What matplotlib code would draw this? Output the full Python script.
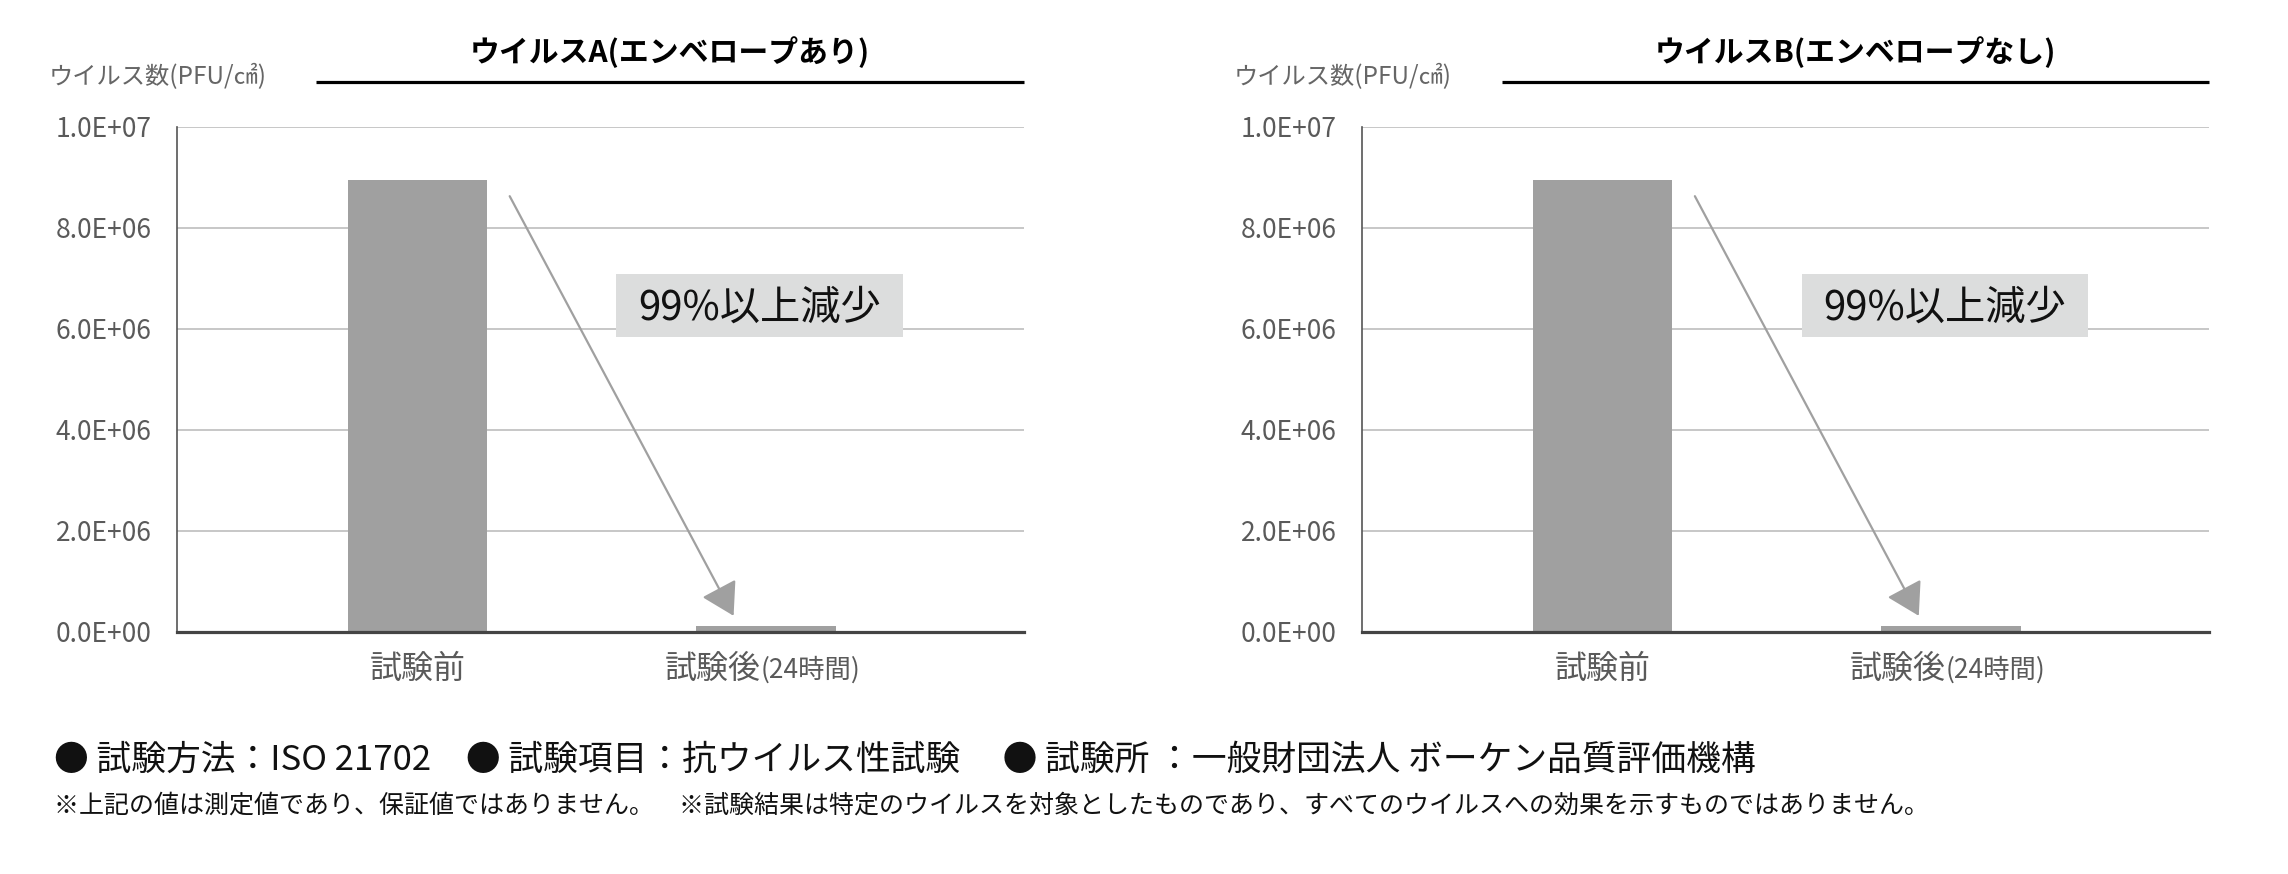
import matplotlib
matplotlib.use("Agg")
import matplotlib.pyplot as plt
from matplotlib.patches import Rectangle
from matplotlib.ticker import FuncFormatter

plt.rcParams['font.family'] = ['Noto Sans CJK JP', 'DejaVu Sans']

# ---- data ----
categories = ["試験前", "試験後"]
category_suffix = ["", "(24時間)"]
titles = ["ウイルスA(エンベロープあり)", "ウイルスB(エンベロープなし)"]
virus_a = [8.96e6, 1.2e5]
virus_b = [8.96e6, 1.2e5]
series = [virus_a, virus_b]
y_ticks = [0, 2e6, 4e6, 6e6, 8e6, 1e7]
y_label = "ウイルス数(PFU/㎠)"
reduction_label = "99%以上減少"
footer_line1 = "● 試験方法：ISO 21702　● 試験項目：抗ウイルス性試験　 ● 試験所 ：一般財団法人 ボーケン品質評価機構"
footer_line2 = ("※上記の値は測定値であり、保証値ではありません。　"
                "※試験結果は特定のウイルスを対象としたものであり、すべてのウイルスへの効果を示すものではありません。")

BAR_COLOR = "#a0a0a0"
GRID_COLOR = "#b8b8b8"
TEXT_GRAY = "#5a5a5a"


def sci_fmt(v, pos):
    if v <= 0:
        return "0.0E+00"
    exp = len(str(int(round(v)))) - 1
    return "%.1fE+%02d" % (v / 10 ** exp, exp)


fig = plt.figure(figsize=(22.88, 8.74), dpi=100)
fig.patch.set_facecolor("white")

axes_lefts = [0.0772, 0.5952]
ax_w, ax_b, ax_h = 0.3704, 0.2769, 0.5778

x = list(range(len(categories)))

for i, (left, vals, title) in enumerate(zip(axes_lefts, series, titles)):
    ax = fig.add_axes([left, ax_b, ax_w, ax_h])
    ax.set_xlim(-0.69, 1.74)
    ax.set_ylim(0, 1e7)
    ax.set_yticks(y_ticks)
    ax.yaxis.set_major_formatter(FuncFormatter(sci_fmt))
    ax.grid(axis="y", color=GRID_COLOR, lw=1.1, zorder=0)
    ax.set_axisbelow(True)
    ax.bar(x, vals, width=0.4, color=BAR_COLOR, zorder=2)

    for s in ["top", "right"]:
        ax.spines[s].set_visible(False)
    ax.spines["left"].set_color("#555555")
    ax.spines["left"].set_linewidth(1.2)
    ax.spines["bottom"].set_color("#444444")
    ax.spines["bottom"].set_linewidth(2.3)
    ax.spines["bottom"].set_zorder(3)

    ax.tick_params(axis="y", length=0, pad=18, labelsize=19, labelcolor=TEXT_GRAY)
    ax.set_xticks([])

    # category labels
    ax.annotate(categories[0], xy=(x[0], 0), xycoords=("data", "axes fraction"),
                xytext=(0, -33), textcoords="offset points", ha="center", va="baseline",
                fontsize=23, color=TEXT_GRAY)
    ax.annotate(categories[1], xy=(x[1], 0), xycoords=("data", "axes fraction"),
                xytext=(-4, -33), textcoords="offset points", ha="right", va="baseline",
                fontsize=23, color=TEXT_GRAY)
    ax.annotate(category_suffix[1], xy=(x[1], 0), xycoords=("data", "axes fraction"),
                xytext=(-4, -33), textcoords="offset points", ha="left", va="baseline",
                fontsize=19, color=TEXT_GRAY)

    # title with underline
    ax.text(0.582, 1.1485, title, transform=ax.transAxes, ha="center", va="center",
            fontsize=21.5, fontweight="bold", color="black")
    ax.plot([0.165, 1.0], [1.0897, 1.0897], transform=ax.transAxes, color="black",
            lw=2.3, clip_on=False, solid_capstyle="butt")
    ax.text(-0.151, 1.099, y_label, transform=ax.transAxes, ha="left", va="center",
            fontsize=17.5, color="#666666")

    # arrow
    ax.annotate("", xy=(0.907, 3.2e5), xytext=(0.265, 8.63e6),
                arrowprops=dict(arrowstyle="-|>,head_length=2.0,head_width=1.2",
                                mutation_scale=10, color="#a0a0a0", lw=1.6,
                                shrinkA=0, shrinkB=0), zorder=4)

    # reduction box
    ax.add_patch(Rectangle((0.571, 5.84e6), 0.822, 1.248e6, facecolor="#dcdddd",
                           edgecolor="none", zorder=3))
    ax.text(0.571 + 0.411, 5.84e6 + 0.58e6, reduction_label, ha="center", va="center",
            fontsize=29, color="#111111", zorder=4)

fig.text(0.0236, 0.1304, footer_line1, ha="left", va="center", fontsize=25, color="#111111")
fig.text(0.0236, 0.0780, footer_line2, ha="left", va="center", fontsize=18, color="#111111")

fig.savefig("out.png", dpi=100, facecolor="white")
